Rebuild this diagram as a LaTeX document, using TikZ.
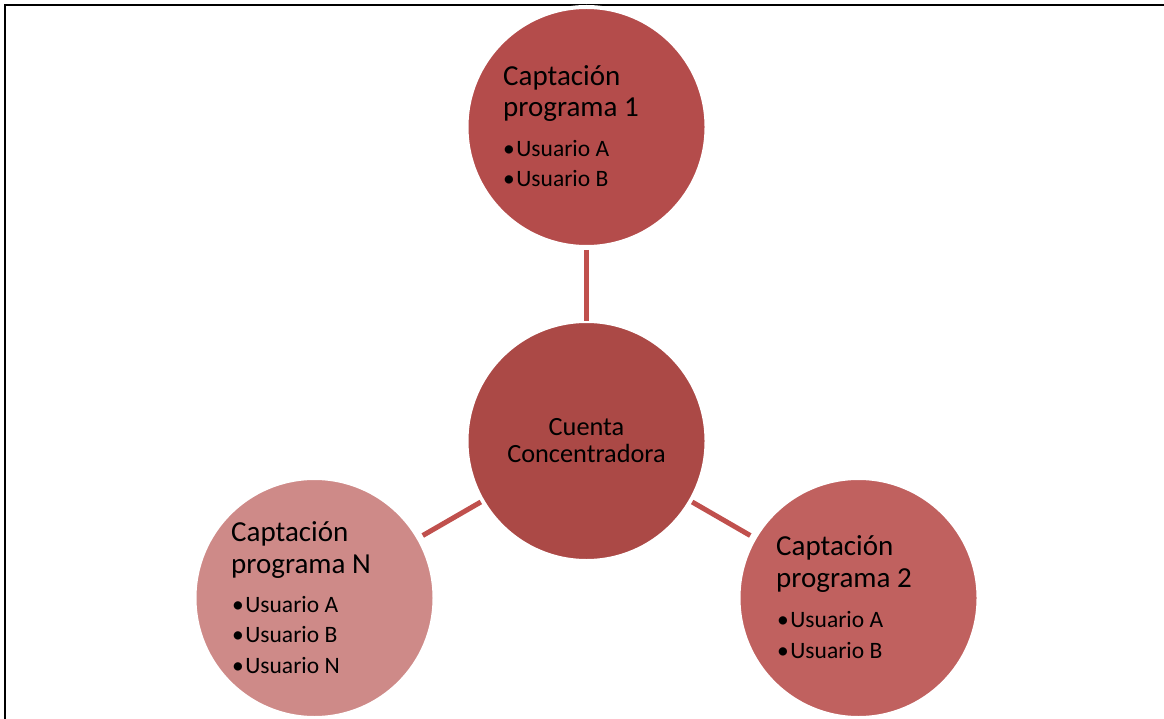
\documentclass[tikz,border=0pt]{standalone}
\usepackage{fontspec}
\setmainfont{Carlito}
\definecolor{topfill}{HTML}{B44C4B}
\definecolor{hubfill}{HTML}{AB4946}
\definecolor{rightfill}{HTML}{C0615F}
\definecolor{leftfill}{HTML}{CE8A88}
\definecolor{linkcol}{HTML}{C0504D}
\newcommand{\blt}{•\hspace{1.5pt}}
\tikzset{
  bubble/.style={circle, minimum size=240pt, inner sep=0pt, outer sep=0pt,
    draw=white, line width=4pt},
  link/.style={draw=linkcol, line width=5pt},
  % multi-line nodes: the base anchor sits on the last line's baseline
  headtxt/.style={anchor=base west, align=left, inner sep=0pt,
    font=\fontsize{29}{31.5}\selectfont},
  itemtxt/.style={anchor=base west, align=left, inner sep=0pt,
    font=\fontsize{23.5}{30.5}\selectfont},
  hubtxt/.style={anchor=base, align=center, inner sep=0pt,
    font=\fontsize{26.3}{27}\selectfont},
}
\begin{document}
\begin{tikzpicture}[x=1pt, y=-1pt]
\useasboundingbox (0,0) rectangle (1164,719);
% frame (left and top edges)
\draw[line width=2.2pt] (5,719) -- (5,5) -- (1164,5);

% circles
\node[bubble, fill=hubfill]   (hub)   at (586.5,441) {};
\node[bubble, fill=topfill]   (prog1) at (586.5,127) {};
\node[bubble, fill=rightfill] (prog2) at (858.5,598) {};
\node[bubble, fill=leftfill]  (progN) at (314.5,598) {};

% connectors
\draw[link, shorten <=3pt, shorten >=0.5pt] (prog1) -- (hub);
\draw[link, shorten <=2pt, shorten >=5pt] (hub) -- (prog2);
\draw[link, shorten <=2pt, shorten >=5pt] (hub) -- (progN);

% texts
\node[hubtxt] (hubtext) at (586.5,462) {Cuenta\\Concentradora};

\node[headtxt] (p1head) at (503,117) {Captación\\programa 1};
\node[itemtxt] (p1items) at (503,187) {\blt Usuario A\\\blt Usuario B};

\node[headtxt] (p2head) at (776,587) {Captación\\programa 2};
\node[itemtxt] (p2items) at (777,658) {\blt Usuario A\\\blt Usuario B};

\node[headtxt] (pNhead) at (231,573) {Captación\\programa N};
\node[itemtxt] (pNitems) at (232,673) {\blt Usuario A\\\blt Usuario B\\\blt Usuario N};
\end{tikzpicture}
\end{document}
